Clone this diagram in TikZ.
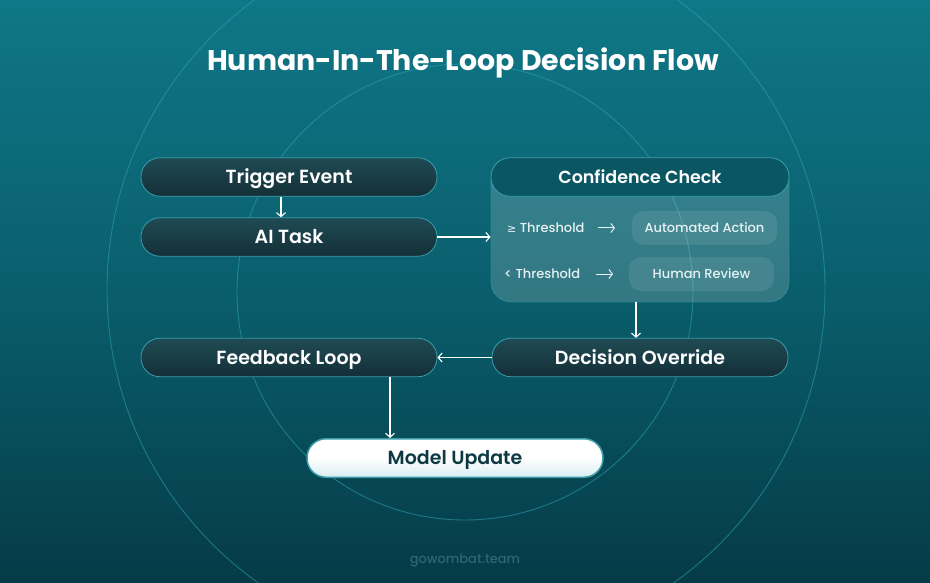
\documentclass[tikz,border=0pt]{standalone}
\usepackage{fontspec}
\setmainfont{Poppins}
\newfontfamily\semib{Poppins SemiBold}
\newfontfamily\medf{Poppins Medium}
\newfontfamily\titlef{Poppins Bold}
\newfontfamily\symf{DejaVu Sans}
\usetikzlibrary{arrows.meta}
\definecolor{bgtop}{HTML}{0F7787}
\definecolor{bgmid}{HTML}{0A5E6C}
\definecolor{bgbot}{HTML}{053B47}
\definecolor{ring}{HTML}{2FA5B5}
\definecolor{pilltop}{HTML}{1F4B54}
\definecolor{pillbot}{HTML}{142F37}
\definecolor{pillline}{HTML}{3A9DAB}
\definecolor{hdr}{HTML}{0A5663}
\definecolor{footc}{HTML}{2A6874}
\definecolor{mtext}{HTML}{0C3944}
\definecolor{mubot}{HTML}{D8EDF2}
\definecolor{rowt}{HTML}{E6F2F3}
\begin{document}
\begin{tikzpicture}[x=1pt,y=-1pt,
  pill/.style={draw=pillline, line width=0.8pt, rounded corners=19pt,
    minimum width=296pt, minimum height=38.5pt, inner sep=0pt,
    text height=13pt, text depth=0pt,
    top color=pilltop, bottom color=pillbot, text=white,
    font=\semib\fontsize{19}{22}\selectfont},
  flow/.style={draw=white, line width=1.1pt,
    -{Straight Barb[length=4pt,width=9pt,line width=1.1pt]}},
  inarrow/.style={draw=rowt, line width=1pt,
    -{Straight Barb[length=3.5pt,width=9pt,line width=1pt]}},
  rowtext/.style={text=rowt, font=\medf\fontsize{13}{15}\selectfont, inner sep=0pt,
    text height=9.5pt, text depth=0pt},
  opt/.style={fill=white, fill opacity=0.09, text opacity=1, text=rowt,
    rounded corners=12pt, minimum width=145pt, minimum height=34pt, inner sep=0pt,
    text height=9.5pt, text depth=0pt,
    font=\medf\fontsize{13}{15}\selectfont},
]
\useasboundingbox (0,0) rectangle (930,583);
\shade[top color=bgtop, bottom color=bgbot, middle color=bgmid] (0,0) rectangle (930,583);
\draw[ring, opacity=0.55, line width=0.9pt] (466,290) circle[radius=359pt];
\draw[ring, opacity=0.55, line width=0.9pt] (465,292) circle[radius=228pt];

\node[font=\titlef\fontsize{28.4}{34}\selectfont, text=white, inner sep=0pt,
  text height=20.5pt, text depth=0pt] (title) at (463,60) {Human-In-The-Loop Decision Flow};

\node[pill] (trig) at (289,177) {Trigger Event};
\node[pill] (ai) at (289,237) {AI Task};
\node[pill] (fb) at (289,357.5) {Feedback Loop};
\node[pill] (dec) at (640,357.5) {Decision Override};
\node[pill, top color=white, bottom color=mubot, middle color=white, draw=pillline, line width=1.5pt, text=mtext] (mu) at (455,458) {Model Update};

\node[draw=pillline, draw opacity=0.5, line width=0.8pt, fill=white, fill opacity=0.17,
  rounded corners=20pt, minimum width=298pt, minimum height=144pt, inner sep=0pt] (cc) at (640,230) {};
\node[pill, top color=hdr, bottom color=hdr, minimum width=298pt, text height=12.5pt,
  font=\semib\fontsize{17.5}{20}\selectfont] (cchead) at (640,177) {Confidence Check};

\node[rowtext, anchor=west] (ge) at (507,228) {{\symf\fontsize{11}{13}\selectfont ≥} Threshold};
\coordinate (a1s) at (598,228);
\coordinate (a1e) at (615,228);
\node[opt] (auto) at (704.5,228) {Automated Action};
\node[rowtext, anchor=west] (lt) at (504,274) {< Threshold};
\coordinate (a2s) at (596,274);
\coordinate (a2e) at (613,274);
\node[opt] (hr) at (701.5,274) {Human Review};
\draw[inarrow] (a1s) -- (a1e);
\draw[inarrow] (a2s) -- (a2e);

\draw[flow] ([xshift=-8pt]trig.south) -- ([xshift=-8pt]ai.north);
\draw[flow] (ai.east) -- (ai.east -| cc.west);
\draw[flow] ([xshift=-4pt]cc.south) -- ([xshift=-4pt]dec.north);
\draw[flow] (dec.west) -- (fb.east);
\draw[flow] ([xshift=101pt]fb.south) -- ([xshift=101pt]fb.south |- mu.north);

\node[text=footc, font=\medf\fontsize{13}{16}\selectfont, inner sep=0pt,
  text height=9.5pt, text depth=0pt] (foot) at (465,559) {gowombat.team};
\end{tikzpicture}
\end{document}
